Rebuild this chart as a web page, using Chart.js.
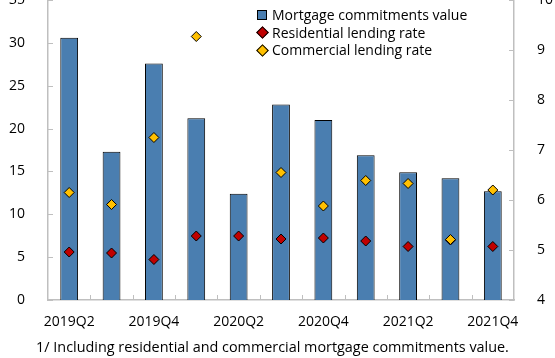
<!DOCTYPE html>
<html>
<head>
<meta charset="utf-8">
<script src="https://cdn.jsdelivr.net/npm/chart.js@4"></script>
<style>
  html, body { margin: 0; padding: 0; background: #fff; }
  #wrap { position: relative; width: 555px; height: 358px; font-family: "Open Sans", sans-serif; color: #000; }
  #legend { position: absolute; left: 256px; top: 6px; font-size: 14px; line-height: 17.5px; }
  #legend div { display: flex; align-items: center; white-space: nowrap; }
  #legend .mk { width: 14px; height: 14px; position: relative; margin-right: 2px; }
  #legend .sq { position: absolute; left: 1px; top: 2px; width: 10px; height: 10px; background: #4a7eb0; border: 1px solid #000; box-sizing: border-box; }
  #legend .dm { position: absolute; left: 2px; top: 3px; width: 7px; height: 7px; border: 1px solid #000; transform: rotate(45deg); }
  #note { position: absolute; left: -5px; width: 555px; top: 337px; text-align: center; font-size: 14.4px; }
</style>
</head>
<body>
<div id="wrap">
  <canvas id="c" width="555" height="358"></canvas>
  <div id="legend">
    <div><span class="mk"><span class="sq"></span></span>Mortgage commitments value</div>
    <div><span class="mk"><span class="dm" style="background:#c00000"></span></span>Residential lending rate</div>
    <div><span class="mk"><span class="dm" style="background:#ffc000"></span></span>Commercial lending rate</div>
  </div>
  <div id="note">1/ Including residential and commercial mortgage commitments value.</div>
</div>
<script>
const quarters = ['2019Q2', '2019Q3', '2019Q4', '2020Q1', '2020Q2', '2020Q3', '2020Q4', '2021Q1', '2021Q2', '2021Q3', '2021Q4'];
const commitments = [30.6, 17.3, 27.6, 21.2, 12.4, 22.8, 21.0, 16.9, 14.9, 14.2, 12.7];
const residentialRate = [4.96, 4.94, 4.81, 5.28, 5.28, 5.22, 5.24, 5.18, 5.07, 5.20, 5.07];
const commercialRate = [6.15, 5.91, 7.25, 9.27, null, 6.55, 5.88, 6.39, 6.33, 5.21, 6.20];

const axisGrey = '#bfbfbf';
const tickFont = { family: 'Open Sans', size: 14 };
// tiny line height so the y axes don't reserve room above the top tick (it gets clipped in the original)
const yTickFont = { family: 'Open Sans', size: 14, lineHeight: 0.05 };

// inside tick marks, like the original
const tickMarks = {
  id: 'tickMarks',
  afterDraw(chart) {
    const ctx = chart.ctx;
    const x = chart.scales.x, y = chart.scales.y, y1 = chart.scales.y1;
    const area = chart.chartArea;
    ctx.save();
    ctx.strokeStyle = axisGrey;
    ctx.lineWidth = 1;
    ctx.beginPath();
    for (let i = 0; i < quarters.length - 1; i++) {
      const px = Math.round((x.getPixelForValue(i) + x.getPixelForValue(i + 1)) / 2) + 0.5;
      ctx.moveTo(px, area.bottom);
      ctx.lineTo(px, area.bottom - 5);
    }
    y.ticks.forEach(t => {
      const py = Math.round(y.getPixelForValue(t.value)) + 0.5;
      ctx.moveTo(area.left, py);
      ctx.lineTo(area.left + 5, py);
    });
    y1.ticks.forEach(t => {
      const py = Math.round(y1.getPixelForValue(t.value)) + 0.5;
      ctx.moveTo(area.right, py);
      ctx.lineTo(area.right - 5, py);
    });
    ctx.stroke();
    ctx.restore();
  }
};

new Chart(document.getElementById('c'), {
  type: 'bar',
  data: {
    labels: quarters,
    datasets: [
      {
        type: 'line',
        label: 'Commercial lending rate',
        data: commercialRate,
        yAxisID: 'y1',
        showLine: false,
        pointStyle: 'rectRot',
        pointRadius: 5,
        pointBackgroundColor: '#ffc000',
        pointBorderColor: '#000',
        pointBorderWidth: 1,
        order: 1
      },
      {
        type: 'line',
        label: 'Residential lending rate',
        data: residentialRate,
        yAxisID: 'y1',
        showLine: false,
        pointStyle: 'rectRot',
        pointRadius: 5,
        pointBackgroundColor: '#c00000',
        pointBorderColor: '#000',
        pointBorderWidth: 1,
        order: 2
      },
      {
        label: 'Mortgage commitments value',
        data: commitments,
        yAxisID: 'y',
        backgroundColor: '#4a7eb0',
        borderColor: '#000',
        borderWidth: 1,
        categoryPercentage: 1,
        barPercentage: 0.42,
        order: 3
      }
    ]
  },
  options: {
    responsive: false,
    animation: false,
    events: [],
    layout: { padding: 0, autoPadding: false },
    plugins: { legend: { display: false }, tooltip: { enabled: false } },
    scales: {
      x: {
        offset: true,
        grid: { display: false },
        border: { color: axisGrey, width: 1.5 },
        ticks: {
          color: '#000',
          font: tickFont,
          padding: 6,
          maxRotation: 0,
          autoSkip: false,
          callback: (v, i) => (i % 2 === 0 ? quarters[i] : '')
        },
        afterFit(s) { s.height = 58; s.paddingLeft = 0; s.paddingRight = 0; }
      },
      y: {
        position: 'left',
        min: 0,
        max: 35,
        grid: { display: false },
        border: { color: axisGrey, width: 1.5 },
        ticks: { stepSize: 5, color: '#000', font: yTickFont, padding: 15 },
        afterFit(s) { s.width = 48; s.paddingTop = 0; s.paddingBottom = 0; }
      },
      y1: {
        position: 'right',
        min: 4,
        max: 10,
        grid: { display: false },
        border: { color: axisGrey, width: 1.5 },
        ticks: { stepSize: 1, color: '#000', font: yTickFont, padding: 15 },
        afterFit(s) { s.width = 41; s.paddingTop = 0; s.paddingBottom = 0; }
      }
    }
  },
  plugins: [tickMarks]
});
</script>
</body>
</html>
